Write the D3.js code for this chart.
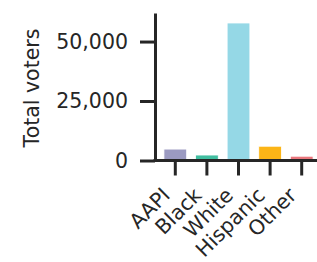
<!DOCTYPE html>
<html>
<head>
<meta charset="utf-8">
<script src="https://cdn.jsdelivr.net/npm/d3@7"></script>
<style>
  body { margin: 0; background: #fff; }
  svg { display: block; font-family: "DejaVu Sans", sans-serif; }
</style>
</head>
<body>
<div class="chart"></div>
<script>
(() => {
  const groups = ["AAPI", "Black", "White", "Hispanic", "Other"];
  const voters = [4800, 2300, 57800, 6000, 1800];
  const colors = ["#9b9ac1", "#41bea0", "#95d8e6", "#fcb517", "#ea777d"];
  const yTicks = [0, 25000, 50000];

  const width = 317, height = 262;
  const ink = "#262626";

  const svg = d3
    .select(".chart")
    .append("svg")
    .attr("width", width)
    .attr("height", height);

  const x = d3
    .scaleBand()
    .domain(groups)
    .range([159.5, 317.5])
    .paddingInner(0.28)
    .paddingOuter(0.14);

  const y = d3.scaleLinear().domain([0, 62000]).range([160.5, 13]);

  // bars
  svg
    .append("g")
    .selectAll("rect")
    .data(groups)
    .enter()
    .append("rect")
    .attr("x", (d) => x(d))
    .attr("width", x.bandwidth())
    .attr("y", (d, i) => y(voters[i]))
    .attr("height", (d, i) => y(0) - y(voters[i]))
    .attr("fill", (d, i) => colors[i])
    .attr("stroke", "#fff")
    .attr("stroke-width", 0.8);

  // y axis
  const yAxis = svg
    .append("g")
    .attr("transform", "translate(155,0)")
    .call(
      d3
        .axisLeft(y)
        .tickValues(yTicks)
        .tickFormat(d3.format(","))
        .tickSize(15)
        .tickPadding(12)
        .tickSizeOuter(0)
    );

  // x axis
  const xAxis = svg
    .append("g")
    .attr("transform", "translate(0,160.5)")
    .call(d3.axisBottom(x).tickSize(15).tickSizeOuter(0));

  xAxis.select(".domain").attr("d", "M153.5,0H317");

  [yAxis, xAxis].forEach((g) => {
    g.select(".domain").attr("stroke", ink).attr("stroke-width", 3);
    g.selectAll(".tick line").attr("stroke", ink).attr("stroke-width", 3);
    g.selectAll(".tick text")
      .attr("fill", ink)
      .style("font-size", "20.5px")
      .style("font-family", "DejaVu Sans");
  });

  xAxis
    .selectAll(".tick text")
    .attr("text-anchor", "end")
    .attr("y", null)
    .attr("dy", null)
    .attr("transform", "translate(-4,36) rotate(-45)");

  // y label
  svg
    .append("text")
    .attr("transform", "translate(39,88) rotate(-90)")
    .attr("text-anchor", "middle")
    .attr("fill", ink)
    .style("font-size", "20.5px")
    .text("Total voters");
})();
</script>
</body>
</html>
